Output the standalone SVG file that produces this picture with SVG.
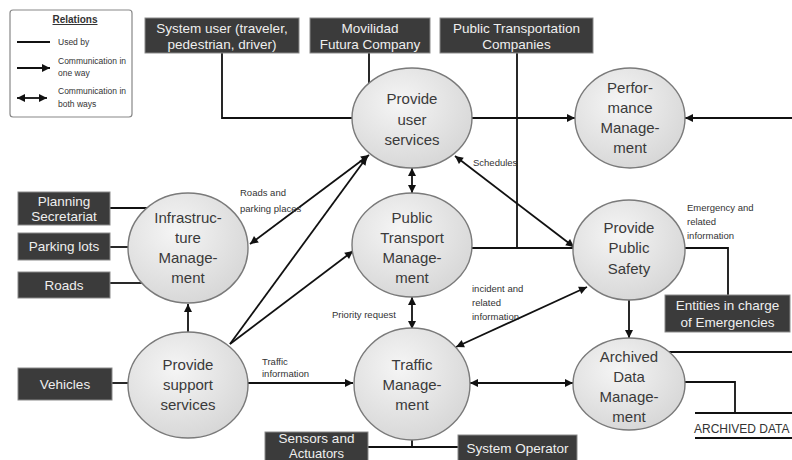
<svg xmlns="http://www.w3.org/2000/svg" width="792" height="460" viewBox="0 0 792 460">
<defs>
<radialGradient id="cg" cx="40%" cy="35%" r="70%">
<stop offset="0" stop-color="#f5f5f5"/>
<stop offset="1" stop-color="#d6d6d6"/>
</radialGradient>
<marker id="ah" viewBox="0 0 10 10" refX="10" refY="5" markerUnits="userSpaceOnUse" markerWidth="9" markerHeight="8" orient="auto-start-reverse">
<path d="M0,0 L10,5 L0,10 z" fill="#111"/>
</marker>
<style>
.c{fill:url(#cg);stroke:#7a7a7a;stroke-width:1.4}
.ct{font-family:"Liberation Sans",Arial,sans-serif;font-size:15px;fill:#3a3a3a;text-anchor:middle}
.b{fill:#3b3b3b;stroke:#8a8a8a;stroke-width:1}
.bt{font-family:"Liberation Sans",Arial,sans-serif;font-size:13.5px;fill:#efefef;text-anchor:middle}
.l{fill:none;stroke:#111;stroke-width:1.8}
.a{marker-end:url(#ah)}
.d{marker-start:url(#ah);marker-end:url(#ah)}
.lb{font-family:"Liberation Sans",Arial,sans-serif;font-size:9.5px;fill:#333}
.lg{font-family:"Liberation Sans",Arial,sans-serif;font-size:8.5px;fill:#333}
</style>
</defs>
<rect width="792" height="460" fill="#fff"/>

<g id="legend">
<rect x="10" y="10" width="122" height="107" rx="3" fill="#fff" stroke="#888" stroke-width="1.2"/>
<text x="75" y="23" font-family="Liberation Sans, Arial, sans-serif" font-size="10" font-weight="bold" fill="#333" text-anchor="middle" text-decoration="underline">Relations</text>
<line x1="17" y1="42" x2="50" y2="42" class="l"/>
<text x="58" y="45" class="lg">Used by</text>
<line x1="17" y1="68" x2="50" y2="68" class="l a"/>
<text x="58" y="64" class="lg">Communication in</text>
<text x="58" y="76" class="lg">one way</text>
<line x1="17" y1="98" x2="47" y2="98" class="l d"/>
<text x="58" y="94" class="lg">Communication in</text>
<text x="58" y="107" class="lg">both ways</text>
</g>

<g id="connectors">
<polyline points="222,53 222,118 352,118" class="l"/>
<line x1="369" y1="53" x2="369" y2="84" class="l"/>
<line x1="517" y1="53" x2="517" y2="248" class="l"/>
<line x1="472" y1="118" x2="575" y2="118" class="l a"/>
<line x1="792" y1="118" x2="685" y2="118" class="l a"/>
<line x1="412" y1="168" x2="412" y2="193" class="l d"/>
<line x1="369" y1="155" x2="250" y2="244" class="l d"/>
<line x1="230" y1="344" x2="367" y2="157" class="l a"/>
<line x1="230" y1="344" x2="353" y2="251" class="l a"/>
<line x1="188" y1="332" x2="188" y2="304" class="l a"/>
<line x1="248" y1="383" x2="353" y2="383" class="l a"/>
<line x1="455" y1="156" x2="574" y2="247" class="l d"/>
<line x1="472" y1="248" x2="573" y2="248" class="l"/>
<line x1="412" y1="297" x2="412" y2="329" class="l d"/>
<line x1="456" y1="347" x2="587" y2="287" class="l d"/>
<line x1="470" y1="383" x2="573" y2="383" class="l d"/>
<line x1="629" y1="300" x2="629" y2="338" class="l a"/>
<polyline points="685,248 728,248 728,295" class="l"/>
<line x1="110" y1="208" x2="147" y2="208" class="l"/>
<line x1="110" y1="247" x2="128" y2="247" class="l"/>
<line x1="110" y1="283" x2="142" y2="283" class="l"/>
<line x1="112" y1="383" x2="128" y2="383" class="l"/>
<polyline points="412,440 412,447" class="l"/>
<line x1="368" y1="447" x2="458" y2="447" class="l"/>
<line x1="668" y1="352" x2="792" y2="352" class="l"/>
<polyline points="685,382 735,382 735,413" class="l"/>
<line x1="695" y1="413" x2="792" y2="413" class="l"/>
<line x1="695" y1="438" x2="792" y2="438" class="l"/>
</g>

<g id="labels">
<text x="240" y="196" class="lb">Roads and</text>
<text x="240" y="212" class="lb">parking places</text>
<text x="473" y="166" class="lb">Schedules</text>
<text x="332" y="318" class="lb">Priority request</text>
<text x="472" y="292" class="lb">incident and</text>
<text x="472" y="306" class="lb">related</text>
<text x="472" y="320" class="lb">information</text>
<text x="262" y="365" class="lb">Traffic</text>
<text x="262" y="377" class="lb">information</text>
<text x="687" y="211" class="lb">Emergency and</text>
<text x="687" y="225" class="lb">related</text>
<text x="687" y="239" class="lb">information</text>
</g>

<g id="system-user"><rect x="145" y="18" width="154" height="35" class="b"/><text x="222" y="33" class="bt">System user (traveler,</text><text x="222" y="49" class="bt">pedestrian, driver)</text></g>
<g id="movilidad"><rect x="310" y="18" width="120" height="35" class="b"/><text x="370" y="33" class="bt">Movilidad</text><text x="370" y="49" class="bt">Futura Company</text></g>
<g id="ptc"><rect x="440" y="18" width="153" height="35" class="b"/><text x="516.5" y="33" class="bt">Public Transportation</text><text x="516.5" y="49" class="bt">Companies</text></g>
<g id="planning"><rect x="18" y="192" width="92" height="33" class="b"/><text x="64" y="206" class="bt">Planning</text><text x="64" y="221" class="bt">Secretariat</text></g>
<g id="parking"><rect x="18" y="233" width="92" height="27" class="b"/><text x="64" y="251" class="bt">Parking lots</text></g>
<g id="roads"><rect x="18" y="272" width="92" height="26" class="b"/><text x="64" y="290" class="bt">Roads</text></g>
<g id="vehicles"><rect x="18" y="368" width="94" height="32" class="b"/><text x="65" y="389" class="bt">Vehicles</text></g>
<g id="sensors"><rect x="265" y="432" width="103" height="35" class="b"/><text x="316.5" y="443" font-size="13px" class="bt">Sensors and</text><text x="316.5" y="458" font-size="13px" class="bt" style="font-size:13px">Actuators</text></g>
<g id="operator"><rect x="458" y="435" width="119" height="30" class="b"/><text x="517.5" y="453" class="bt">System Operator</text></g>
<g id="entities"><rect x="665" y="295" width="125" height="37" class="b"/><text x="727.5" y="310" class="bt">Entities in charge</text><text x="727.5" y="327" class="bt">of Emergencies</text></g>

<g id="user-services"><ellipse cx="412" cy="118" rx="60" ry="50" class="c"/><text x="412" y="104" class="ct">Provide</text><text x="412" y="125" class="ct">user</text><text x="412" y="145" class="ct">services</text></g>
<g id="performance"><ellipse cx="630" cy="118" rx="55" ry="50" class="c"/><text x="630" y="93" class="ct">Perfor-</text><text x="630" y="113" class="ct">mance</text><text x="630" y="133" class="ct">Manage-</text><text x="630" y="153" class="ct">ment</text></g>
<g id="infrastructure"><ellipse cx="188" cy="248" rx="60" ry="55" class="c"/><text x="188" y="223" class="ct">Infrastruc-</text><text x="188" y="243" class="ct">ture</text><text x="188" y="263" class="ct">Manage-</text><text x="188" y="283" class="ct">ment</text></g>
<g id="public-transport"><ellipse cx="412" cy="245" rx="60" ry="52" class="c"/><text x="412" y="223" class="ct">Public</text><text x="412" y="243" class="ct">Transport</text><text x="412" y="263" class="ct">Manage-</text><text x="412" y="283" class="ct">ment</text></g>
<g id="public-safety"><ellipse cx="629" cy="250" rx="56" ry="50" class="c"/><text x="629" y="233" class="ct">Provide</text><text x="629" y="253" class="ct">Public</text><text x="629" y="274" class="ct">Safety</text></g>
<g id="support"><ellipse cx="188" cy="385" rx="60" ry="53" class="c"/><text x="188" y="370" class="ct">Provide</text><text x="188" y="390" class="ct">support</text><text x="188" y="410" class="ct">services</text></g>
<g id="traffic"><ellipse cx="412" cy="384" rx="58" ry="56" class="c"/><text x="412" y="370" class="ct">Traffic</text><text x="412" y="390" class="ct">Manage-</text><text x="412" y="410" class="ct">ment</text></g>
<g id="archived"><ellipse cx="629" cy="384" rx="56" ry="46" class="c"/><text x="629" y="362" class="ct">Archived</text><text x="629" y="382" class="ct">Data</text><text x="629" y="402" class="ct">Manage-</text><text x="629" y="422" class="ct">ment</text></g>
<g id="archived-data"><text x="694" y="433" font-family="Liberation Sans, Arial, sans-serif" font-size="12" fill="#333">ARCHIVED DATA</text></g>
</svg>
